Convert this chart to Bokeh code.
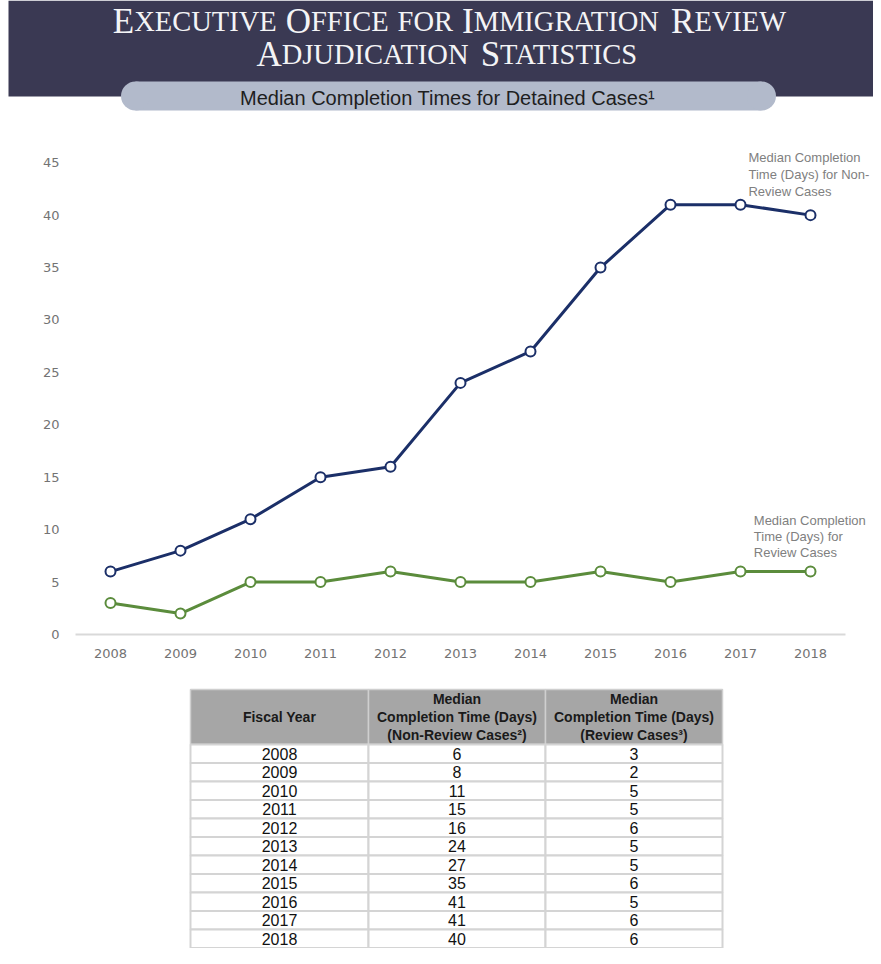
from bokeh.plotting import figure
from bokeh.layouts import column
from bokeh.models import Range1d, FixedTicker, ColumnDataSource, Label
from bokeh.core.properties import value
from bokeh.embed import file_html
from bokeh.resources import INLINE

# ---------------- data ----------------
years = [2008, 2009, 2010, 2011, 2012, 2013, 2014, 2015, 2016, 2017, 2018]
non_review = [6, 8, 11, 15, 16, 24, 27, 35, 41, 41, 40]
review = [3, 2, 5, 5, 6, 5, 5, 6, 5, 6, 6]
y_ticks = [0, 5, 10, 15, 20, 25, 30, 35, 40, 45]

title_line1 = "Executive Office for Immigration Review"
title_line2 = "Adjudication Statistics"
subtitle = "Median Completion Times for Detained Cases\u00b9"
note_non_review = ["Median Completion", "Time (Days) for Non-", "Review Cases"]
note_review = ["Median Completion", "Time (Days) for", "Review Cases"]
col_header_1 = ["Fiscal Year"]
col_header_2 = ["Median", "Completion Time (Days)", "(Non-Review Cases\u00b2)"]
col_header_3 = ["Median", "Completion Time (Days)", "(Review Cases\u00b3)"]

NAVY = "#1b2f68"
GREEN = "#5b8c3c"
BANNER = "#3a3953"
PILL = "#b2bacb"

W = 873

# ---------------- header ----------------
TIMES = {'A': 722, 'B': 667, 'C': 667, 'D': 722, 'E': 611, 'F': 556, 'G': 722, 'H': 722,
         'I': 333, 'J': 389, 'K': 722, 'L': 611, 'M': 889, 'N': 722, 'O': 722, 'P': 556,
         'Q': 722, 'R': 667, 'S': 556, 'T': 611, 'U': 722, 'V': 722, 'W': 944, 'X': 722,
         'Y': 722, 'Z': 611}


def small_caps_runs(text, big, small, cx, y, space):
    pieces = []  # (string, size) or None for a space
    for wi, word in enumerate(text.split(" ")):
        if wi > 0:
            pieces.append(None)
        cur = None
        for ch in word:
            size = big if ch.isupper() else small
            if cur is not None and cur[1] == size:
                cur[0] += ch.upper()
            else:
                cur = [ch.upper(), size]
                pieces.append(cur)
    widths = []
    for pc in pieces:
        if pc is None:
            widths.append(space)
        else:
            widths.append(sum(TIMES.get(c, 600) for c in pc[0]) * pc[1] / 1000.0)
    total = sum(widths)
    x0 = cx - total / 2.0
    xs, ys, ts, fs = [], [], [], []
    for pc, w in zip(pieces, widths):
        if pc is not None:
            xs.append(x0)
            ys.append(y)
            ts.append(pc[0])
            fs.append("%.1fpx" % pc[1])
        x0 += w
    return dict(x=xs, y=ys, text=ts, fs=fs)


hdr = figure(width=W, height=112, x_range=Range1d(0, W), y_range=Range1d(112, 0),
             x_axis_type=None, y_axis_type=None, output_backend="svg",
             toolbar_location=None, min_border=0, frame_align=False)
hdr.outline_line_color = None
hdr.grid.visible = False
hdr.quad(left=[8], right=[W], top=[0], bottom=[96], fill_color=BANNER, line_color=None)
hdr.quad(left=[135], right=[761], top=[81], bottom=[110], fill_color=PILL, line_color=None)
hdr.scatter(x=[135, 761], y=[95.5, 95.5], size=29, marker="circle", fill_color=PILL,
            line_color=None)

for line, yb in ((title_line1, 21), (title_line2, 54)):
    src = ColumnDataSource(small_caps_runs(line, 35, 28.5, 449, yb, 9))
    hdr.text(x="x", y="y", text="text", source=src, text_font=value("Liberation Serif"),
             text_font_size="fs", text_color="#f4f4f6", text_align="left",
             text_baseline="alphabetic")

hdr.text(x=[447], y=[97], text=[subtitle], text_font=value("Liberation Sans"),
         text_font_size="20px", text_color="#1e1e1e", text_align="center",
         text_baseline="alphabetic")

# ---------------- chart ----------------
p = figure(width=W, height=548, x_range=Range1d(2007.5, 2018.9), y_range=Range1d(0, 47.5),
           output_backend="svg", toolbar_location=None, frame_align=False,
           min_border_left=75, min_border_right=0, min_border_top=24, min_border_bottom=26)
p.outline_line_color = None
p.grid.visible = False

p.line(years, non_review, line_color=NAVY, line_width=3)
p.scatter(years, non_review, size=10, marker="circle", fill_color="white",
          line_color=NAVY, line_width=2)
p.line(years, review, line_color=GREEN, line_width=3)
p.scatter(years, review, size=10, marker="circle", fill_color="white",
          line_color=GREEN, line_width=2)

p.xaxis.ticker = FixedTicker(ticks=years)
p.yaxis.ticker = FixedTicker(ticks=y_ticks)
for ax in (p.xaxis, p.yaxis):
    ax.major_tick_line_color = None
    ax.minor_tick_line_color = None
    ax.major_label_text_font = "DejaVu Sans"
    ax.major_label_text_font_size = "13px"
    ax.major_label_text_color = "#737373"
    ax.major_label_standoff = 8
p.yaxis.axis_line_color = None
p.xaxis.axis_line_color = "#d9d9d9"
p.xaxis.axis_line_width = 2
p.xaxis.bounds = (2007.5, 2018.5)
p.yaxis.major_label_standoff = 10

for txt, yy in zip(note_non_review, [45.47, 43.85, 42.3]):
    p.add_layout(Label(x=2017.114, y=yy, text=txt, text_font="Liberation Sans",
                       text_font_size="13px", text_color="#808080", text_align="left",
                       text_baseline="middle"))
for txt, yy in zip(note_review, [10.87, 9.33, 7.8]):
    p.add_layout(Label(x=2017.19, y=yy, text=txt, text_font="Liberation Sans",
                       text_font_size="13px", text_color="#808080", text_align="left",
                       text_baseline="middle"))

# ---------------- table ----------------
rows = list(range(len(years)))
t = figure(width=W, height=288, x_range=Range1d(0, W), y_range=Range1d(10.53, -5.04),
           x_axis_type=None, y_axis_type=None, output_backend="svg",
           toolbar_location=None, min_border=0, frame_align=False)
t.outline_line_color = None
t.grid.visible = False

col_left = [190, 368, 545]
col_right = [368, 545, 722]
col_mid = [279, 456.5, 633.5]
HDR_TOP = -3.47
HDR_BOT = -0.5

t.quad(left=col_left, right=col_right, top=[HDR_TOP] * 3, bottom=[HDR_BOT] * 3,
       fill_color="#a6a6a6", line_color="#cfcfcf", line_width=1.5)
for l, r in zip(col_left, col_right):
    t.quad(left=[l] * len(rows), right=[r] * len(rows), top=[i - 0.5 for i in rows],
           bottom=[i + 0.5 for i in rows], fill_color="white", line_color="#d4d4d4",
           line_width=2)

hc = (HDR_TOP + HDR_BOT) / 2.0
t.text(x=[col_mid[0]], y=[hc], text=col_header_1, text_font=value("Liberation Sans"),
       text_font_style="bold", text_font_size="14px", text_color="#1a1a1a",
       text_align="center", text_baseline="middle")
for cx, lines in ((col_mid[1], col_header_2), (col_mid[2], col_header_3)):
    t.text(x=[cx] * 3, y=[hc - 0.95, hc, hc + 0.95], text=lines,
           text_font=value("Liberation Sans"), text_font_style="bold",
           text_font_size="14px", text_color="#1a1a1a", text_align="center",
           text_baseline="middle")

for cx, vals in ((col_mid[0], years), (col_mid[1], non_review), (col_mid[2], review)):
    t.text(x=[cx] * len(rows), y=rows, text=[str(v) for v in vals],
           text_font=value("Liberation Sans"), text_font_size="16px", text_color="#111111",
           text_align="center", text_baseline="middle")

layout = column(hdr, p, t, spacing=0)
open("out.html", "w").write(file_html(layout, INLINE))
